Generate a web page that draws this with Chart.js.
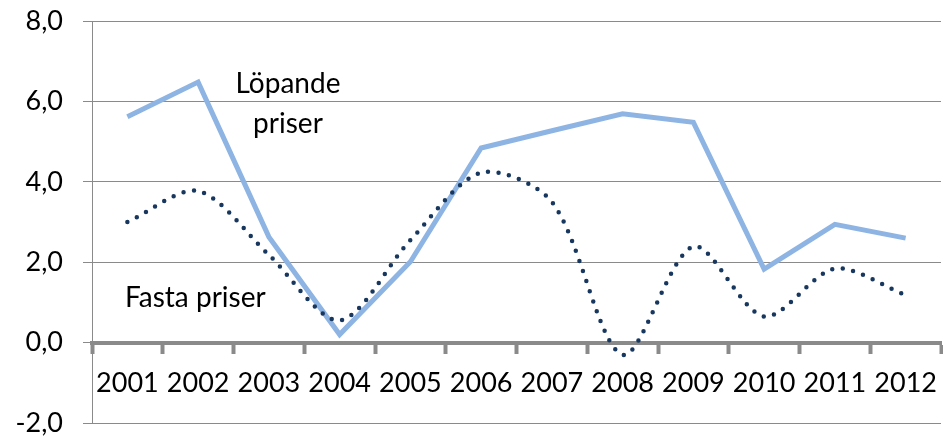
<!DOCTYPE html>
<html lang="sv">

<head>
  <meta charset="UTF-8" />
  <title>Löpande och fasta priser</title>
  <script src="https://cdn.jsdelivr.net/npm/chart.js"></script>
  <style>
    body {
      margin: 0;
      background: #fff;
    }

    #wrap {
      width: 943px;
      height: 438px;
    }
  </style>
</head>

<body>
  <div id="wrap">
    <canvas id="chart"></canvas>
  </div>

  <script>
    const years = ['2001', '2002', '2003', '2004', '2005', '2006', '2007', '2008', '2009', '2010', '2011', '2012'];
    const lopandePriser = [5.62, 6.48, 2.63, 0.2, 2.01, 4.84, 5.27, 5.69, 5.48, 1.83, 2.94, 2.6];
    const fastaPriser = [3.0, 3.77, 2.18, 0.55, 2.55, 4.23, 3.5, -0.3, 2.39, 0.65, 1.84, 1.18];
    const yTicks = [-2, 0, 2, 4, 6, 8];

    const FONT = 'Lato, "Open Sans", sans-serif';
    const GRID = '#8a8a8a';

    // text labels placed next to the lines
    const seriesLabels = {
      id: 'seriesLabels',
      afterDatasetsDraw(chart) {
        const { ctx, scales } = chart;
        ctx.save();
        ctx.fillStyle = '#000';
        ctx.font = '28px ' + FONT;
        ctx.textAlign = 'center';
        ctx.textBaseline = 'middle';
        const x1 = scales.x.getPixelForValue(2.27);
        ctx.fillText('Löpande', x1, scales.y.getPixelForValue(6.43));
        ctx.fillText('priser', x1, scales.y.getPixelForValue(5.43));
        const x2 = scales.x.getPixelForValue(0.96);
        ctx.fillText('Fasta priser', x2, scales.y.getPixelForValue(1.12));
        ctx.restore();
      }
    };

    new Chart(document.getElementById('chart'), {
      type: 'line',
      data: {
        labels: years,
        datasets: [{
          label: 'Fasta priser',
          data: fastaPriser,
          borderColor: '#17375e',
          borderWidth: 4.5,
          borderDash: [0, 10.6],
          borderCapStyle: 'round',
          tension: 0.3,
          pointRadius: 0,
          order: 0
        }, {
          label: 'Löpande priser',
          data: lopandePriser,
          borderColor: '#8eb4e3',
          borderWidth: 5,
          tension: 0,
          pointRadius: 0,
          order: 1
        }]
      },
      options: {
        responsive: true,
        maintainAspectRatio: false,
        animation: false,
        layout: { padding: { left: 0, right: 2, top: 21, bottom: 15 } },
        plugins: {
          legend: { display: false },
          tooltip: { enabled: false }
        },
        scales: {
          x: {
            position: { y: 0 },
            offset: true,
            afterFit: (scale) => {
              scale.paddingLeft = 0;
              scale.paddingRight = 0;
            },
            grid: {
              offset: true,
              drawOnChartArea: false,
              drawTicks: true,
              tickLength: 9,
              tickWidth: 4,
              tickColor: GRID
            },
            border: { display: true, color: GRID, width: 4 },
            ticks: {
              color: '#000',
              font: { family: FONT, size: 27 },
              padding: 15,
              maxRotation: 0,
              autoSkip: false
            }
          },
          y: {
            min: -2,
            max: 8,
            afterBuildTicks: (scale) => {
              scale.ticks = yTicks.map(v => ({ value: v }));
            },
            afterFit: (scale) => {
              scale.width = 92;
              scale.paddingTop = 0;
              scale.paddingBottom = 0;
            },
            grid: {
              color: GRID,
              lineWidth: 1,
              tickLength: 9,
              tickColor: GRID
            },
            border: { display: true, color: GRID, width: 1 },
            ticks: {
              color: '#000',
              font: { family: FONT, size: 27 },
              padding: 20,
              callback: (v) => v.toFixed(1).replace('.', ',')
            }
          }
        }
      },
      plugins: [seriesLabels]
    });
  </script>
</body>

</html>
